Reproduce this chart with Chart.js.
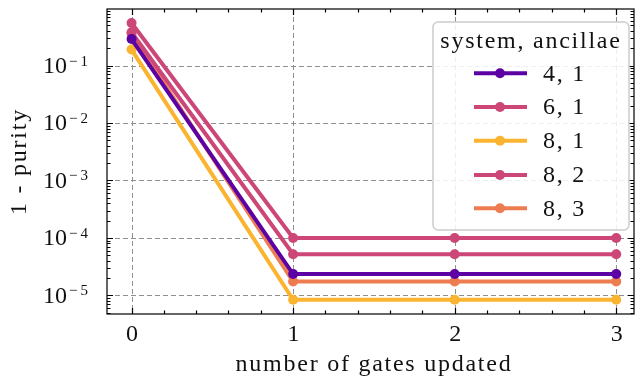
<!DOCTYPE html>
<html>
<head>
<meta charset="utf-8">
<script src="https://cdn.jsdelivr.net/npm/chart.js@4.4.1/dist/chart.umd.min.js"></script>
<style>
  html, body { margin: 0; padding: 0; background: #fff; }
  #wrap { width: 639px; height: 379px; }
</style>
</head>
<body>
<div id="wrap"><canvas id="chart" width="639" height="379"></canvas></div>
<script>
// -----------------------------
// Data
// -----------------------------
const gates = [0, 1, 2, 3];
const seriesLabels = ["4, 1", "6, 1", "8, 1", "8, 2", "8, 3"];
const sys4anc1 = [0.29, 2.35e-5, 2.35e-5, 2.35e-5];
const sys6anc1 = [0.55, 1.0e-4, 1.0e-4, 1.0e-4];
const sys8anc1 = [0.19, 8.4e-6, 8.4e-6, 8.4e-6];
const sys8anc2 = [0.38, 5.2e-5, 5.2e-5, 5.2e-5];
const sys8anc3 = [0.36, 1.75e-5, 1.75e-5, 1.75e-5];
const yMajorExps = [-5, -4, -3, -2, -1];
const xMajorTicks = [0, 1, 2, 3];

const colors = ["#5c02a4", "#cc4778", "#fbb42f", "#cc4778", "#ee7c51"];
const allSeries = [sys4anc1, sys6anc1, sys8anc1, sys8anc2, sys8anc3];

const FONT = "'Liberation Serif', 'DejaVu Serif', serif";
const SPACING = "1.75px";

// -----------------------------
// Frame, ticks, grid, legend
// -----------------------------
const gridPlugin = {
    id: "gridPlugin",
    beforeDatasetsDraw(chart) {
        const { ctx, chartArea: a } = chart;
        const xs = chart.scales.x, ys = chart.scales.y;
        ctx.save();
        ctx.strokeStyle = "#8f8f8f";
        ctx.lineWidth = 1;
        ctx.setLineDash([5, 3]);
        xMajorTicks.forEach(v => {
            const px = Math.round(xs.getPixelForValue(v)) + 0.5;
            ctx.beginPath(); ctx.moveTo(px, a.top); ctx.lineTo(px, a.bottom); ctx.stroke();
        });
        yMajorExps.forEach(e => {
            const py = Math.round(ys.getPixelForValue(Math.pow(10, e))) + 0.5;
            ctx.beginPath(); ctx.moveTo(a.left, py); ctx.lineTo(a.right, py); ctx.stroke();
        });
        ctx.restore();
    },
    afterDatasetsDraw(chart) {
        const { ctx, chartArea: a } = chart;
        const xs = chart.scales.x, ys = chart.scales.y;
        ctx.save();
        ctx.strokeStyle = "#000";
        ctx.lineWidth = 1.2;

        // ticks (inward, all four sides)
        const tickX = (px, len) => {
            ctx.beginPath();
            ctx.moveTo(px, a.bottom); ctx.lineTo(px, a.bottom - len);
            ctx.moveTo(px, a.top); ctx.lineTo(px, a.top + len);
            ctx.stroke();
        };
        const tickY = (py, len) => {
            ctx.beginPath();
            ctx.moveTo(a.left, py); ctx.lineTo(a.left + len, py);
            ctx.moveTo(a.right, py); ctx.lineTo(a.right - len, py);
            ctx.stroke();
        };
        for (let i = -1; i <= 16; i++) {
            const v = i * 0.2;
            if (v < xs.min || v > xs.max) continue;
            const px = Math.round(xs.getPixelForValue(v)) + 0.5;
            tickX(px, i % 5 === 0 ? 6 : 3.5);
        }
        for (let e = -6; e <= 0; e++) {
            for (let m = 1; m <= 9; m++) {
                const v = m * Math.pow(10, e);
                if (v < ys.min || v > ys.max) continue;
                const py = Math.round(ys.getPixelForValue(v)) + 0.5;
                tickY(py, m === 1 ? 6 : 3.5);
            }
        }

        // frame
        ctx.strokeRect(a.left, a.top, a.right - a.left, a.bottom - a.top);

        // tick labels
        ctx.fillStyle = "#111";
        ctx.letterSpacing = "0px";
        ctx.font = "24px " + FONT;
        ctx.textAlign = "center";
        ctx.textBaseline = "middle";
        xMajorTicks.forEach(v => {
            ctx.fillText(String(v), xs.getPixelForValue(v) + 0.5, a.bottom + 21);
        });
        ctx.textAlign = "left";
        yMajorExps.forEach(e => {
            const py = ys.getPixelForValue(Math.pow(10, e));
            ctx.font = "24px " + FONT;
            ctx.letterSpacing = "0px";
            ctx.fillText("10", 43, py + 1);
            ctx.font = "15px " + FONT;
            ctx.letterSpacing = "3px";
            ctx.fillText("\u2212" + Math.abs(e), 69, py - 4);
        });

        // axis titles
        ctx.letterSpacing = SPACING;
        ctx.textAlign = "center";
        ctx.font = "24px " + FONT;
        ctx.fillText("number of gates updated", 374, 365);
        ctx.save();
        ctx.translate(20, (a.top + a.bottom) / 2);
        ctx.rotate(-Math.PI / 2);
        ctx.fillText("1 - purity", 0, 0);
        ctx.restore();

        // legend
        const bx = 433, by = 22, bw = 196, bh = 208;
        ctx.beginPath();
        ctx.roundRect(bx, by, bw, bh, 5);
        ctx.fillStyle = "rgba(255,255,255,0.85)";
        ctx.fill();
        ctx.strokeStyle = "#cccccc";
        ctx.lineWidth = 1.5;
        ctx.stroke();

        ctx.fillStyle = "#111";
        ctx.font = "24px " + FONT;
        ctx.textAlign = "center";
        ctx.fillText("system, ancillae", bx + bw / 2, 42);
        const rows = [73.3, 107, 140.7, 175, 208.3];
        chart.data.datasets.forEach((ds, i) => {
            const y = rows[i];
            ctx.strokeStyle = ds.borderColor;
            ctx.lineWidth = 4;
            ctx.beginPath(); ctx.moveTo(474, y); ctx.lineTo(527, y); ctx.stroke();
            ctx.fillStyle = ds.borderColor;
            ctx.beginPath(); ctx.arc(500, y, 5, 0, Math.PI * 2); ctx.fill();
            ctx.fillStyle = "#111";
            ctx.textAlign = "left";
            ctx.fillText(ds.label, 543, y + 1);
        });
        ctx.restore();
    }
};

// -----------------------------
// Chart
// -----------------------------
const ctx = document.getElementById("chart").getContext("2d");
new Chart(ctx, {
    type: "line",
    data: {
        datasets: allSeries.map((vals, i) => ({
            label: seriesLabels[i],
            data: gates.map((g, k) => ({ x: g, y: vals[k] })),
            borderColor: colors[i],
            backgroundColor: colors[i],
            pointBackgroundColor: colors[i],
            pointBorderWidth: 0,
            pointRadius: 5,
            borderWidth: 4,
            tension: 0,
            fill: false
        }))
    },
    options: {
        responsive: false,
        animation: false,
        devicePixelRatio: 1,
        layout: { padding: { left: 107, top: 9, right: 5, bottom: 65 } },
        plugins: { legend: { display: false }, tooltip: { enabled: false } },
        scales: {
            x: { type: "linear", min: -0.152, max: 3.11, display: false },
            y: { type: "logarithmic", min: 4.74e-6, max: 0.966, display: false }
        }
    },
    plugins: [gridPlugin]
});
</script>
</body>
</html>
